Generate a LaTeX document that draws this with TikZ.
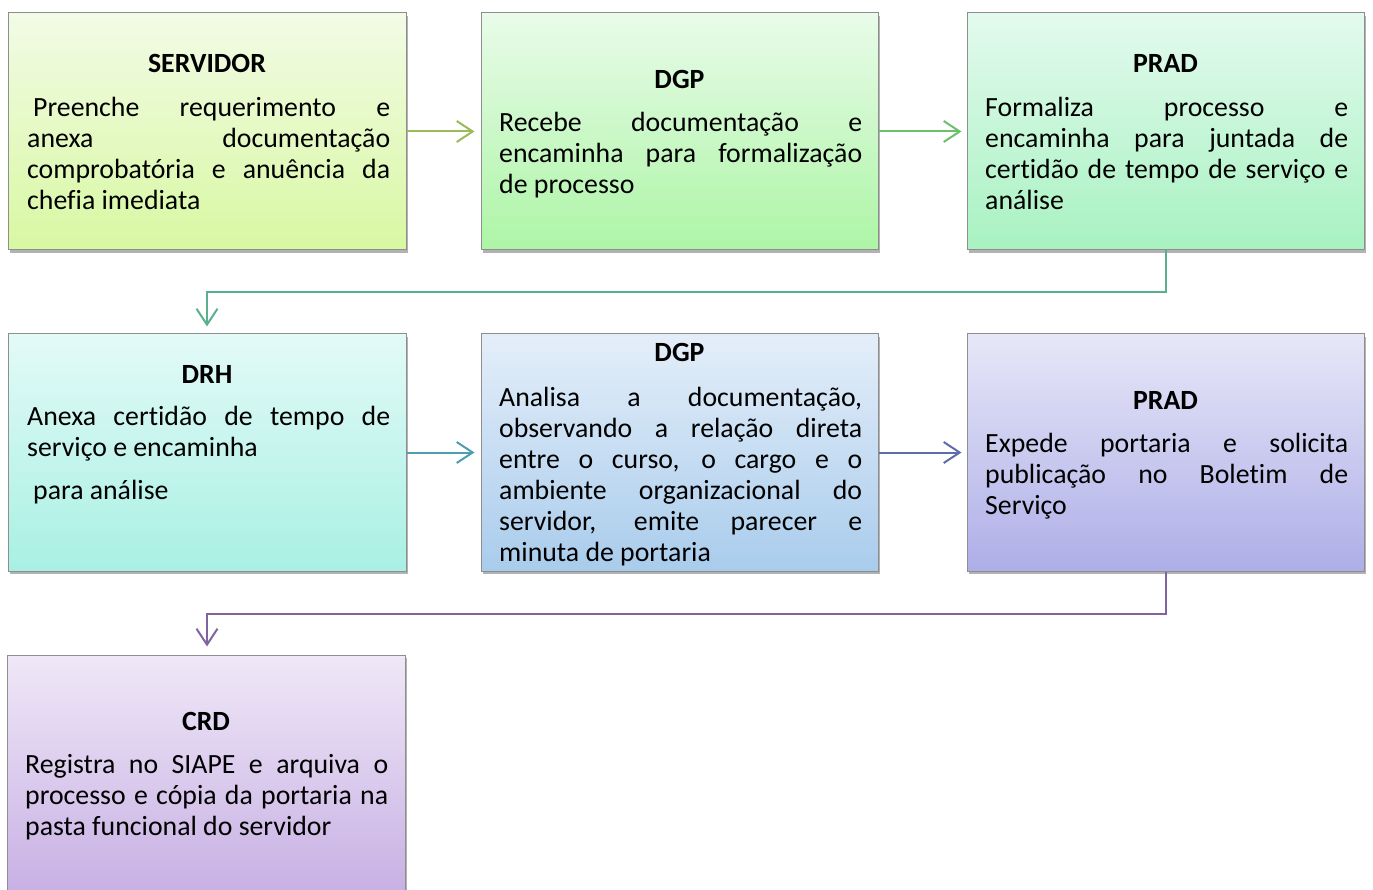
\documentclass[tikz,border=0pt]{standalone}
\usepackage{fontspec}
\setmainfont{Carlito}[Ligatures=CommonOff]
\usetikzlibrary{arrows.meta,shadows}
\definecolor{boxline}{HTML}{8E8E8E}
\definecolor{aone}{HTML}{9BBB59}
\definecolor{atwo}{HTML}{6CC06C}
\definecolor{athree}{HTML}{5AB08C}
\definecolor{afour}{HTML}{4E9EB2}
\definecolor{afive}{HTML}{5D6CAA}
\definecolor{asix}{HTML}{8064A2}
\definecolor{sTop}{HTML}{F2FBE6}\definecolor{sBot}{HTML}{D8F8A2}
\definecolor{gTop}{HTML}{E9FBE9}\definecolor{gBot}{HTML}{ADF5A6}
\definecolor{pTop}{HTML}{E3FAEE}\definecolor{pBot}{HTML}{A8F2C1}
\definecolor{dTop}{HTML}{E3FAF7}\definecolor{dBot}{HTML}{A8F0E3}
\definecolor{hTop}{HTML}{E4EEF9}\definecolor{hBot}{HTML}{A9CCEC}
\definecolor{qTop}{HTML}{E7E7F8}\definecolor{qBot}{HTML}{AEAEE8}
\definecolor{cTop}{HTML}{EFE8F7}\definecolor{cBot}{HTML}{C8B0E4}
\newcommand\flowfont{\fontsize{27.8}{31}\selectfont\hyphenpenalty=10000\exhyphenpenalty=10000\tolerance=10000\parindent=0pt\relax}
\begin{document}
\begin{tikzpicture}[x=1pt,y=-1pt,
  box/.style args={#1/#2}{draw=boxline, line width=1pt, inner sep=0pt,
    minimum height=237pt, top color=#1, bottom color=#2,
    drop shadow={shadow xshift=1.5pt, shadow yshift=-3pt, opacity=0.3, fill=black}},
  wide/.style={minimum width=398pt},
  narrow/.style={minimum width=397pt},
  title/.style={anchor=base, inner sep=0pt, font=\flowfont\bfseries},
  body/.style={anchor=north west, inner sep=0pt, text width=363pt, align=justify, font=\flowfont},
  flow/.style={line width=2pt, -{Straight Barb[length=16pt, width=21pt, line width=2pt]}}
]
\useasboundingbox (0,0) rectangle (1373,890);

% row 1
\node[box=sTop/sBot, wide]   (s1) at (207,131.5) {};
\node[box=gTop/gBot, narrow] (g1) at (679.5,131.5) {};
\node[box=pTop/pBot, narrow] (p1) at (1165.5,131.5) {};
% row 2
\node[box=dTop/dBot, wide]   (d1) at (207,452.5) {};
\node[box=hTop/hBot, narrow] (g2) at (679.5,452.5) {};
\node[box=qTop/qBot, narrow] (p2) at (1165.5,452.5) {};
% row 3
\node[box=cTop/cBot, wide]   (c1) at (206,773.5) {};

% titles
\node[title] (s1t) at (207,73) {SERVIDOR};
\node[title] (g1t) at (679.5,89) {DGP};
\node[title] (p1t) at (1165.5,73) {PRAD};
\node[title] (d1t) at (207,383) {DRH};
\node[title] (g2t) at (679.5,362) {DGP};
\node[title] (p2t) at (1165.5,409) {PRAD};
\node[title] (c1t) at (206,730) {CRD};

% bodies
\node[body] (s1b) at (27,{116-21.7}) {\strut\hspace*{6pt}Preenche requerimento e\linebreak anexa documentação\linebreak comprobatória e anuência da\linebreak chefia imediata};
\node[body] (g1b) at (499,{131-21.7}) {\strut Recebe documentação e\linebreak encaminha para formalização\linebreak de processo};
\node[body] (p1b) at (985,{116-21.7}) {\strut Formaliza processo e\linebreak encaminha para juntada de\linebreak certidão de tempo de serviço e\linebreak análise};
\node[body] (d1b) at (27,{425-21.7}) {\strut Anexa certidão de tempo de\linebreak serviço e encaminha\par\vspace{12pt}\hspace*{6pt}para análise};
\node[body] (g2b) at (499,{406-21.7}) {\strut Analisa a documentação,\linebreak observando a relação direta\linebreak entre o curso, o cargo e o\linebreak ambiente organizacional do\linebreak servidor, emite parecer e\linebreak minuta de portaria};
\node[body] (p2b) at (985,{452-21.7}) {\strut Expede portaria e solicita\linebreak publicação no Boletim de\linebreak Serviço};
\node[body] (c1b) at (25,{773-21.7}) {\strut Registra no SIAPE e arquiva o\linebreak processo e cópia da portaria na\linebreak pasta funcional do servidor};

% connectors
\draw[flow, aone]  (s1.east) -- ([xshift=-6pt]g1.west);
\draw[flow, atwo]  (g1.east) -- ([xshift=-5pt]p1.west);
\draw[flow, athree] (p1.south) -- ++(0,42) -| ([yshift=7pt]d1.north);
\draw[flow, afour] (d1.east) -- ([xshift=-6pt]g2.west);
\draw[flow, afive] (g2.east) -- ([xshift=-5pt]p2.west);
\draw[flow, asix]  (p2.south) -- ++(0,42) -| ([xshift=1pt,yshift=8pt]c1.north);
\end{tikzpicture}
\end{document}
